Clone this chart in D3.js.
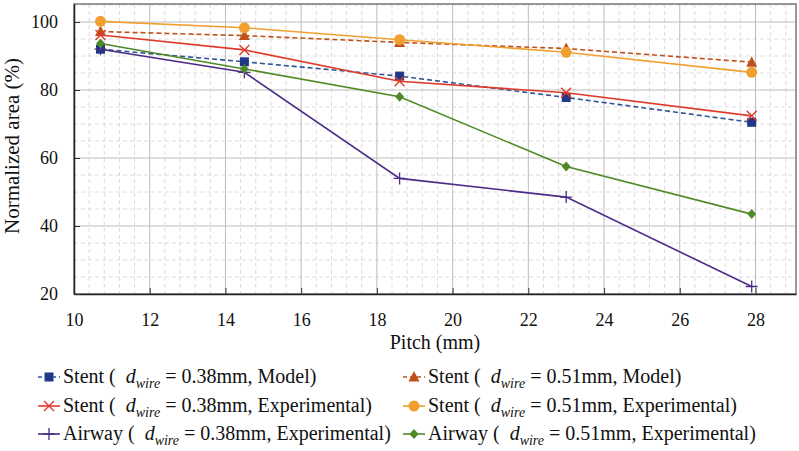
<!DOCTYPE html>
<html><head><meta charset="utf-8">
<script src="https://cdn.jsdelivr.net/npm/d3@7"></script>
<style>body{margin:0;background:#fff}svg{display:block}svg text{font-family:'Liberation Serif','Times New Roman',Tinos,'DejaVu Serif',serif !important;fill:#111}</style>
</head><body><svg id="c" width="799" height="451"></svg>
<script>
const pitch = [10.7, 14.5, 18.6, 23.0, 27.9];
const stent038Model = [92.0, 88.3, 84.1, 77.8, 70.5];
const stent051Model = [97.2, 96.0, 94.0, 92.2, 88.2];
const stent038Exp = [96.2, 91.8, 82.6, 79.2, 72.4];
const stent051Exp = [100.2, 98.3, 94.8, 91.1, 85.2];
const airway038Exp = [92.0, 85.2, 54.0, 48.5, 22.2];
const airway051Exp = [93.7, 86.2, 78.0, 57.5, 43.5];
const xTicks = [10, 12, 14, 16, 18, 20, 22, 24, 26, 28];
const yTicks = [20, 40, 60, 80, 100];
const seriesLabels = [
  ["Stent", "0.38mm", "Model"],
  ["Stent", "0.51mm", "Model"],
  ["Stent", "0.38mm", "Experimental"],
  ["Stent", "0.51mm", "Experimental"],
  ["Airway", "0.38mm", "Experimental"],
  ["Airway", "0.51mm", "Experimental"]
];
const seriesValues = [stent038Model, stent051Model, stent038Exp, stent051Exp, airway038Exp, airway051Exp];
const seriesStyle = [
  {line:"#2F5597", marker:"#1F3888", dash:"5,3", shape:"square"},
  {line:"#C0501A", marker:"#C0501A", dash:"5,3", shape:"triangle"},
  {line:"#E03A2A", marker:"#E03A2A", dash:null, shape:"x"},
  {line:"#F0A030", marker:"#F0A030", dash:null, shape:"circle"},
  {line:"#4B2C86", marker:"#4B2C86", dash:null, shape:"plus"},
  {line:"#4E8A26", marker:"#4E8A26", dash:null, shape:"diamond"}
];

const FONT = "'Liberation Serif','Times New Roman',Tinos,'DejaVu Serif',serif";
const svg = d3.select("#c").attr("font-family", FONT);
const L = 74, R = 796, T = 4, B = 294;
const x = d3.scaleLinear().domain([10, 29.07]).range([L, R]);
const y = d3.scaleLinear().domain([20, 105.3]).range([B, T]);

const g = svg.append("g");
const xMinor = d3.range(10, 29.05, 0.4).filter(v => Math.abs(v/2 - Math.round(v/2)) > 1e-6);
const yMinor = d3.range(25, 105.1, 5).filter(v => v % 20 !== 0);
g.selectAll(".xm").data(xMinor).join("line")
  .attr("x1", d => x(d)).attr("x2", d => x(d)).attr("y1", T).attr("y2", B)
  .attr("stroke", "#dcdcdc").attr("stroke-dasharray", "4,3");
g.selectAll(".ym").data(yMinor).join("line")
  .attr("x1", L).attr("x2", R).attr("y1", d => y(d)).attr("y2", d => y(d))
  .attr("stroke", "#dcdcdc").attr("stroke-dasharray", "4,3");
g.selectAll(".xM").data(xTicks.slice(1)).join("line")
  .attr("x1", d => x(d)).attr("x2", d => x(d)).attr("y1", T).attr("y2", B)
  .attr("stroke", "#bdbdbd");
g.selectAll(".yM").data(yTicks.slice(1)).join("line")
  .attr("x1", L).attr("x2", R).attr("y1", d => y(d)).attr("y2", d => y(d))
  .attr("stroke", "#bdbdbd");
g.append("rect").attr("x", L).attr("y", T).attr("width", R - L).attr("height", B - T)
  .attr("fill", "none").attr("stroke", "#777").attr("stroke-width", 1.5);

const xAxis = d3.axisBottom(x).tickValues(xTicks).tickSizeInner(-6).tickSizeOuter(0).tickPadding(19);
const yAxis = d3.axisLeft(y).tickValues(yTicks).tickSizeInner(-6).tickSizeOuter(0).tickPadding(16);
const ga = svg.append("g").attr("transform", `translate(0,${B})`).call(xAxis);
const gy = svg.append("g").attr("transform", `translate(${L},0)`).call(yAxis);
[ga, gy].forEach(a => {
  a.attr("font-family", FONT).attr("font-size", 18);
  a.select(".domain").attr("stroke", "#222").attr("stroke-width", 1.5);
  a.selectAll(".tick line").attr("stroke", "#333");
  a.selectAll("text").attr("fill", "#111");
});
ga.selectAll("text").attr("dy", "0.71em");

svg.append("text").attr("x", (L + R) / 2).attr("y", 349).attr("text-anchor", "middle")
  .attr("font-size", 20).text("Pitch (mm)");
svg.append("text").attr("transform", `translate(19,${(T + B) / 2 - 3}) rotate(-90)`).attr("text-anchor", "middle")
  .attr("font-size", 21).text("Normalized area (%)");

function drawMarker(sel, shape, color, cx, cy) {
  if (shape === "square") {
    sel.append("rect").attr("x", cx - 4.5).attr("y", cy - 4.5).attr("width", 9).attr("height", 9).attr("fill", color);
  } else if (shape === "triangle") {
    sel.append("path").attr("d", `M${cx},${cy - 6}L${cx + 5.5},${cy + 4.5}L${cx - 5.5},${cy + 4.5}Z`).attr("fill", color);
  } else if (shape === "circle") {
    sel.append("circle").attr("cx", cx).attr("cy", cy).attr("r", 5.5).attr("fill", color);
  } else if (shape === "diamond") {
    sel.append("path").attr("d", `M${cx},${cy - 5}L${cx + 4.5},${cy}L${cx},${cy + 5}L${cx - 4.5},${cy}Z`).attr("fill", color);
  } else if (shape === "x") {
    sel.append("path").attr("d", `M${cx - 5},${cy - 5}L${cx + 5},${cy + 5}M${cx - 5},${cy + 5}L${cx + 5},${cy - 5}`)
      .attr("stroke", color).attr("stroke-width", 1.4).attr("fill", "none");
  } else if (shape === "plus") {
    sel.append("path").attr("d", `M${cx - 6},${cy}L${cx + 6},${cy}M${cx},${cy - 6}L${cx},${cy + 6}`)
      .attr("stroke", color).attr("stroke-width", 1.3).attr("fill", "none");
  }
}

const line = d3.line().x(d => x(d[0])).y(d => y(d[1]));
seriesValues.forEach((vals, i) => {
  const st = seriesStyle[i];
  const pts = pitch.map((p, j) => [p, vals[j]]);
  const sg = svg.append("g");
  sg.append("path").attr("d", line(pts)).attr("fill", "none").attr("stroke", st.line)
    .attr("stroke-width", 1.6).attr("stroke-dasharray", st.dash);
  pts.forEach(p => drawMarker(sg, st.shape, st.marker, x(p[0]), y(p[1])));
});

const colX = [38, 403];
const rowY = [383, 412, 440];
seriesLabels.forEach((lab, i) => {
  const st = seriesStyle[i];
  const cx0 = colX[i % 2], by = rowY[Math.floor(i / 2)];
  const lg = svg.append("g");
  const cy = by - 6;
  lg.append("line").attr("x1", cx0).attr("x2", cx0 + 22).attr("y1", cy).attr("y2", cy)
    .attr("stroke", st.line).attr("stroke-width", 1.6).attr("stroke-dasharray", st.dash ? "4,3" : null);
  drawMarker(lg, st.shape, st.marker, cx0 + 11, cy);
  const t = lg.append("text").attr("x", cx0 + 25).attr("y", by).attr("font-size", 20).attr("xml:space", "preserve");
  t.append("tspan").text(lab[0] + " (  ");
  t.append("tspan").attr("font-style", "italic").text("d");
  t.append("tspan").attr("font-style", "italic").attr("font-size", 14).attr("dy", 5).text("wire");
  t.append("tspan").attr("dy", -5).text(" = " + lab[1] + ", " + lab[2] + ")");
});
</script></body></html>
